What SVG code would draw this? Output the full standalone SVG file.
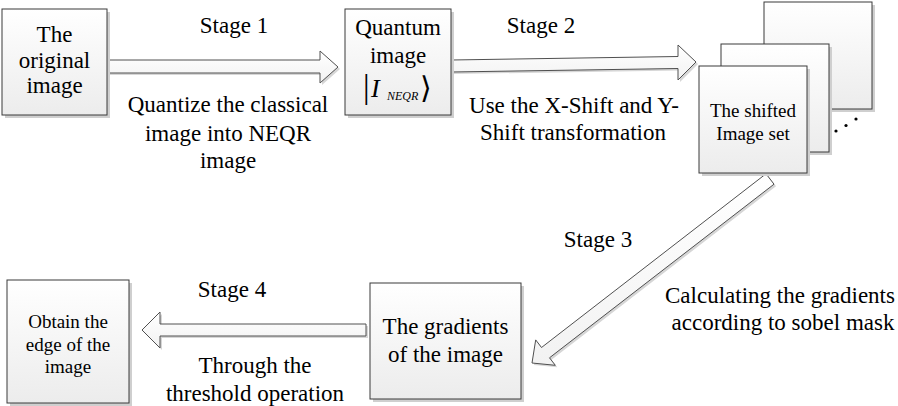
<svg xmlns="http://www.w3.org/2000/svg" width="898" height="406" viewBox="0 0 898 406">
<defs>
<linearGradient id="boxg" x1="0" y1="0" x2="0" y2="1">
<stop offset="0" stop-color="#ffffff"/>
<stop offset="1" stop-color="#ececec"/>
</linearGradient>
<linearGradient id="arrg" x1="0" y1="0" x2="0" y2="1">
<stop offset="0" stop-color="#ffffff"/>
<stop offset="1" stop-color="#f2f2f2"/>
</linearGradient>
</defs>
<style>
.box{fill:url(#boxg);stroke:#3a3a3a;stroke-width:1}
.shadow{fill:#cfcfcf;stroke:none}
.arr{fill:url(#arrg);stroke:#505050;stroke-width:1;stroke-linejoin:miter}
.ashadow{fill:#d6d6d6;stroke:none}
text{font-family:'Times New Roman','Liberation Serif',serif}
.t{font-size:23px;fill:#000;text-anchor:middle}
.s{font-size:19px;fill:#000;text-anchor:middle}
</style>
<rect width="898" height="406" fill="#ffffff"/>

<g id="connectors">
<g id="c1">
<polygon class="ashadow" points="109,62 322,62 322,53 340,69 322,85 322,75 109,75"/>
<polygon class="arr" points="107,60 320,60 320,51 338,67 320,83 320,73 107,73"/>
</g>
<g id="c2">
<polygon class="ashadow" points="453,62 680,58.5 680,47 698,64 680,82 680,70.5 453,74"/>
<polygon class="arr" points="451,60 678,56.5 678,45 696,62 678,80 678,68.5 451,72"/>
</g>
<g id="c3">
<polygon class="ashadow" points="768,175.8 543.5,349.5 537.7,341.9 534,365 557.3,367.3 551.5,359.8 776,186.2"/>
<polygon class="arr" points="766,173.8 541.5,347.5 535.7,339.9 532,363 555.3,365.3 549.5,357.8 774,184.2"/>
</g>
<g id="c4">
<polygon class="ashadow" points="368,326 162,326 162,314 144,332 162,350 162,338 368,338"/>
<polygon class="arr" points="366,324 160,324 160,312 142,330 160,348 160,336 366,336"/>
</g>
</g>

<g id="n1">
<rect class="shadow" x="5" y="12" width="105" height="106"/>
<rect class="box" x="2" y="9" width="105" height="106"/>
<text class="t" x="54.5" y="42">The</text>
<text class="t" x="54.5" y="68">original</text>
<text class="t" x="54.5" y="93">image</text>
</g>

<g id="n2">
<rect class="shadow" x="348" y="12" width="106" height="106"/>
<rect class="box" x="345" y="9" width="106" height="106"/>
<text class="t" x="398" y="35">Quantum</text>
<text class="t" x="398" y="63">image</text>
<text x="363" y="98" font-size="33">|</text>
<text x="371" y="97" font-size="26" font-style="italic">I</text>
<text x="387" y="100" font-size="12" font-style="italic">NEQR</text>
<text x="420" y="98" style="font-family:'DejaVu Sans',sans-serif" font-size="30">⟩</text>
</g>

<g id="n3">
<rect class="shadow" x="767" y="5" width="108" height="107"/>
<rect class="box" x="764" y="2" width="108" height="107"/>
<rect class="shadow" x="724" y="47" width="108" height="108"/>
<rect class="box" x="721" y="44" width="108" height="108"/>
<rect class="shadow" x="702" y="69" width="108" height="107"/>
<rect class="box" x="699" y="66" width="108" height="107"/>
<text class="s" x="753" y="117">The shifted</text>
<text class="s" x="753" y="140">Image set</text>
<circle cx="836" cy="131" r="1.6" fill="#000"/>
<circle cx="846" cy="125.5" r="1.6" fill="#000"/>
<circle cx="856" cy="119" r="1.6" fill="#000"/>
</g>

<g id="n4">
<rect class="shadow" x="373" y="286" width="151" height="116"/>
<rect class="box" x="370" y="283" width="151" height="116"/>
<text class="t" x="445.5" y="334">The gradients</text>
<text class="t" x="445.5" y="362">of the image</text>
</g>

<g id="n5">
<rect class="shadow" x="10" y="283" width="122" height="123"/>
<rect class="box" x="7" y="280" width="122" height="123"/>
<text class="s" x="68" y="328">Obtain the</text>
<text class="s" x="68" y="351">edge of the</text>
<text class="s" x="68" y="373">image</text>
</g>

<g id="labels">
<text class="t" x="234" y="33">Stage 1</text>
<text class="t" x="228" y="112">Quantize the classical</text>
<text class="t" x="228" y="141">image into NEQR</text>
<text class="t" x="228" y="168">image</text>
<text class="t" x="541" y="33">Stage 2</text>
<text class="t" x="574" y="113">Use the X-Shift and Y-</text>
<text class="t" x="573" y="140">Shift transformation</text>
<text class="t" x="598" y="247">Stage 3</text>
<text class="t" x="780" y="303">Calculating the gradients</text>
<text class="t" x="783" y="330">according to sobel mask</text>
<text class="t" x="232" y="297">Stage 4</text>
<text class="t" x="255" y="373">Through the</text>
<text class="t" x="255" y="401">threshold operation</text>
</g>
</svg>
